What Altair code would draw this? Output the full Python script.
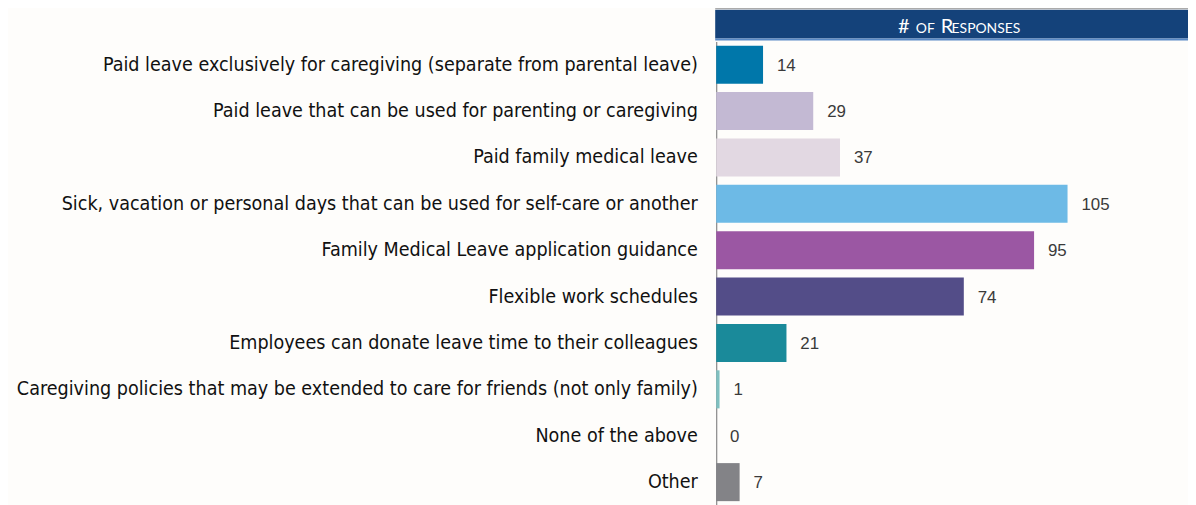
import altair as alt
import pandas as pd

categories = [
    "Paid leave exclusively for caregiving (separate from parental leave)",
    "Paid leave that can be used for parenting or caregiving",
    "Paid family medical leave",
    "Sick, vacation or personal days that can be used for self-care or another",
    "Family Medical Leave application guidance",
    "Flexible work schedules",
    "Employees can donate leave time to their colleagues",
    "Caregiving policies that may be extended to care for friends (not only family)",
    "None of the above",
    "Other",
]
responses = [14, 29, 37, 105, 95, 74, 21, 1, 0, 7]
colors = ["#0077AA", "#C3B9D3", "#E2D8E2", "#6DBAE6", "#9B57A3",
          "#534D88", "#1A8A9A", "#7FC0C0", "#FFFFFF", "#838387"]

df = pd.DataFrame({"category": categories, "responses": responses, "color": colors})

y_enc = alt.Y("category:N", sort=None,
              scale=alt.Scale(paddingInner=0.18, paddingOuter=0.09),
              axis=alt.Axis(title=None, labelFontSize=19.7, labelFont="DejaVu Sans Condensed",
                            labelColor="#111111", labelLimit=0, labelPadding=19,
                            ticks=False, domain=True, domainColor="#888888", domainWidth=1.2))
x_enc = alt.X("responses:Q", scale=alt.Scale(domain=[0, 141], nice=False),
              axis=None)

bars = alt.Chart(df).mark_bar().encode(
    x=x_enc, y=y_enc, color=alt.Color("color:N", scale=None)
)
labels = alt.Chart(df).mark_text(align="left", baseline="middle", dx=14, dy=1,
                                 fontSize=17, font="Liberation Sans", color="#3a3a3a").encode(
    x=x_enc, y=alt.Y("category:N", sort=None), text="responses:Q"
)

hdr = pd.DataFrame({"a": [0]})
header_rect = alt.Chart(hdr).mark_rect(color="#14427A").encode(
    x=alt.value(-1), x2=alt.value(480), y=alt.value(-32), y2=alt.value(-3))
header_top = alt.Chart(hdr).mark_rule(color="#999999", strokeWidth=1).encode(
    x=alt.value(-1), x2=alt.value(480), y=alt.value(-33))
header_bot = alt.Chart(hdr).mark_rule(color="#5A8AC6", strokeWidth=2).encode(
    x=alt.value(-1), x2=alt.value(480), y=alt.value(-2))

pieces = [("#", 183, 20), ("OF", 201, 14), ("R", 226, 20), ("ESPONSES", 237, 14)]
htexts = []
for txt, xx, fs in pieces:
    htexts.append(alt.Chart(hdr).mark_text(align="left", baseline="alphabetic", color="white",
                                           font="Lato", fontSize=fs, text=txt).encode(
        x=alt.value(xx), y=alt.value(-9)))

chart = alt.layer(header_rect, header_top, header_bot, *htexts, bars, labels).properties(
    width=475, height=467,
    autosize=alt.AutoSizeParams(type="none"),
    padding={"left": 713, "top": 32, "right": 0, "bottom": 0},
    background="#FEFDFB",
).configure_view(stroke=None)

chart.save("out.html", embed_options={"renderer": "svg", "actions": False})
